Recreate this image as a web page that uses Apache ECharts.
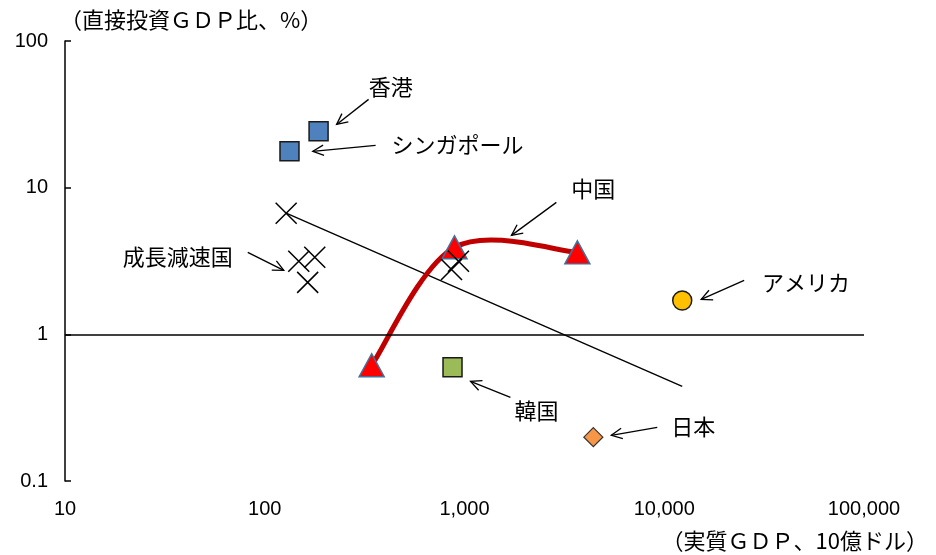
<!DOCTYPE html>
<html>
<head>
<meta charset="utf-8">
<script src="https://cdn.jsdelivr.net/npm/echarts@6/dist/echarts.min.js"></script>
<style>
html, body { margin: 0; padding: 0; background: #fff; }
#chart { width: 936px; height: 555px; }
</style>
</head>
<body>
<div id="chart"></div>
<script>
// Axis ranges (log scale, base 10)
const xRange = [10, 100000];
const yRange = [0.1, 100];

// Economies: [real GDP (bn USD), FDI as % of GDP]
const hongKong = [[186, 24.2]];
const singapore = [[133, 17.7]];
const china = [[343, 0.615], [891, 3.92], [3673, 3.62]];
const korea = [[871, 0.596]];
const japan = [[4416, 0.199]];
const usa = [[12303, 1.70]];
const slowingEconomies = [[128, 6.7], [148, 3.15], [178, 3.35], [164, 2.26], [861, 2.77], [933, 3.15]];
const trendLine = [[128, 6.7], [12300, 0.442]];

// Callout texts and their arrows, in data units
const calloutNames = ['香港', 'シンガポール', '中国', '成長減速国', 'アメリカ', '韓国', '日本'];
const calloutAt = [[427, 49.0], [923, 19.7], [4416, 9.89], [36.7, 3.40], [51286, 2.26], [2291, 0.303], [13964, 0.236]];
const arrowFrom = [[331, 40.0], [359, 19.4], [2884, 7.94], [82.2, 3.62], [25119, 2.33], [1698, 0.372], [9226, 0.232]];
const arrowTo = [[229, 27.0], [174, 17.7], [1718, 4.73], [124.5, 2.73], [15311, 1.73], [1072, 0.478], [5433, 0.205]];

const cjkFont = '"Noto Sans CJK JP", "Noto Sans CJK SC", sans-serif';
const numFont = '"Liberation Sans", Arial, sans-serif';

const arrows = arrowFrom.map((f, i) => [f[0], f[1], arrowTo[i][0], arrowTo[i][1]]);

function renderArrow(params, api) {
  const a = api.coord([api.value(0), api.value(1)]);
  const b = api.coord([api.value(2), api.value(3)]);
  const ang = Math.atan2(b[1] - a[1], b[0] - a[0]);
  const len = 12, spread = Math.PI / 7;
  const p1 = [b[0] - len * Math.cos(ang - spread), b[1] - len * Math.sin(ang - spread)];
  const p2 = [b[0] - len * Math.cos(ang + spread), b[1] - len * Math.sin(ang + spread)];
  return {
    type: 'group',
    children: [
      { type: 'line', shape: { x1: a[0], y1: a[1], x2: b[0], y2: b[1] },
        style: { stroke: '#000', lineWidth: 1.3 } },
      { type: 'polyline', shape: { points: [p1, b, p2] },
        style: { stroke: '#000', fill: null, lineWidth: 1.3 } }
    ]
  };
}

// Smoothed path through the China points (cardinal spline in screen space)
function renderChinaPath(params, api) {
  if (params.dataIndex !== 0) return null;
  const pts = china.map(d => api.coord(d));
  const n = pts.length;
  const k = 1 / 6;
  let d = 'M' + pts[0][0] + ',' + pts[0][1];
  for (let i = 0; i < n - 1; i++) {
    const p0 = pts[Math.max(i - 1, 0)], p1 = pts[i], p2 = pts[i + 1], p3 = pts[Math.min(i + 2, n - 1)];
    const c1 = [p1[0] + (p2[0] - p0[0]) * k, p1[1] + (p2[1] - p0[1]) * k];
    const c2 = [p2[0] - (p3[0] - p1[0]) * k, p2[1] - (p3[1] - p1[1]) * k];
    d += 'C' + c1[0] + ',' + c1[1] + ' ' + c2[0] + ',' + c2[1] + ' ' + p2[0] + ',' + p2[1];
  }
  return {
    type: 'path',
    shape: { pathData: d },
    style: { stroke: '#c00000', lineWidth: 5, fill: null, lineCap: 'round', lineJoin: 'round' }
  };
}

function renderCallout(params, api) {
  const p = api.coord([api.value(0), api.value(1)]);
  return {
    type: 'text',
    x: p[0], y: p[1],
    style: {
      text: calloutNames[params.dataIndex],
      align: 'center', verticalAlign: 'middle',
      textAlign: 'center', textVerticalAlign: 'middle',
      fill: '#000',
      font: '22px ' + cjkFont
    }
  };
}

function marker(name, data, symbol, size, fill, border, borderWidth) {
  return {
    name: name, type: 'scatter', data: data, symbol: symbol, symbolSize: size, z: 4,
    itemStyle: { color: fill, borderColor: border, borderWidth: borderWidth, opacity: 1 },
    emphasis: { disabled: true }
  };
}

const chart = echarts.init(document.getElementById('chart'));
chart.setOption({
  animation: false,
  backgroundColor: '#fff',
  grid: { left: 65, right: 72, top: 41, bottom: 74 },
  xAxis: {
    type: 'log', logBase: 10, min: xRange[0], max: xRange[1],
    axisLine: { show: false }, axisTick: { show: false }, splitLine: { show: false },
    axisLabel: {
      margin: 18, color: '#000', fontSize: 20, fontFamily: numFont,
      formatter: v => Number(v).toLocaleString('en-US')
    }
  },
  yAxis: {
    type: 'log', logBase: 10, min: yRange[0], max: yRange[1],
    axisLine: { show: true, lineStyle: { color: '#000', width: 1.5 } },
    axisTick: { show: true, inside: true, length: 6, lineStyle: { color: '#000', width: 1.5 } },
    splitLine: { show: false },
    axisLabel: {
      margin: 17, color: '#000', fontSize: 20, fontFamily: numFont,
      formatter: v => String(Number(Number(v).toPrecision(3)))
    }
  },
  graphic: [
    { type: 'text', left: 60, top: 9,
      style: { text: '（直接投資ＧＤＰ比、%）', font: '22px ' + cjkFont, fill: '#000' } },
    { type: 'text', right: 8, top: 530,
      style: { text: '（実質ＧＤＰ、10億ドル）', font: '22px ' + cjkFont, fill: '#000' } }
  ],
  series: [
    {
      name: 'trend', type: 'line', data: trendLine, symbol: 'none', silent: true, z: 2,
      lineStyle: { color: '#000', width: 1.3 },
      markLine: {
        silent: true, symbol: 'none', label: { show: false },
        lineStyle: { color: '#000', width: 1.5, type: 'solid' },
        data: [{ yAxis: 1 }]
      }
    },
    {
      name: '中国推移', type: 'custom', data: china, renderItem: renderChinaPath, silent: true, z: 3,
      encode: { x: 0, y: 1 }
    },
    marker('中国', china, 'triangle', [25, 23], '#ff0000', '#41719c', 1.5),
    {
      name: '成長減速国', type: 'scatter', data: slowingEconomies, z: 5,
      symbol: 'path://M0,0L10,10M10,0L0,10', symbolSize: 21,
      itemStyle: { color: 'none', borderColor: '#000', borderWidth: 1.5, opacity: 1 },
      emphasis: { disabled: true }
    },
    marker('香港', hongKong, 'rect', 19, '#4f81bd', '#1a1a1a', 1.5),
    marker('シンガポール', singapore, 'rect', 19, '#4f81bd', '#1a1a1a', 1.5),
    marker('韓国', korea, 'rect', 19, '#9bbb59', '#1a1a1a', 1.5),
    marker('日本', japan, 'diamond', 19, '#f79646', '#333', 1.2),
    marker('アメリカ', usa, 'circle', 19, '#ffc000', '#1a1a1a', 1.5),
    {
      name: 'arrows', type: 'custom', data: arrows, renderItem: renderArrow, silent: true, z: 6,
      encode: { x: [0, 2], y: [1, 3] }
    },
    {
      name: 'callouts', type: 'custom', data: calloutAt, renderItem: renderCallout, silent: true, z: 6,
      encode: { x: 0, y: 1 }
    }
  ]
});
</script>
</body>
</html>
